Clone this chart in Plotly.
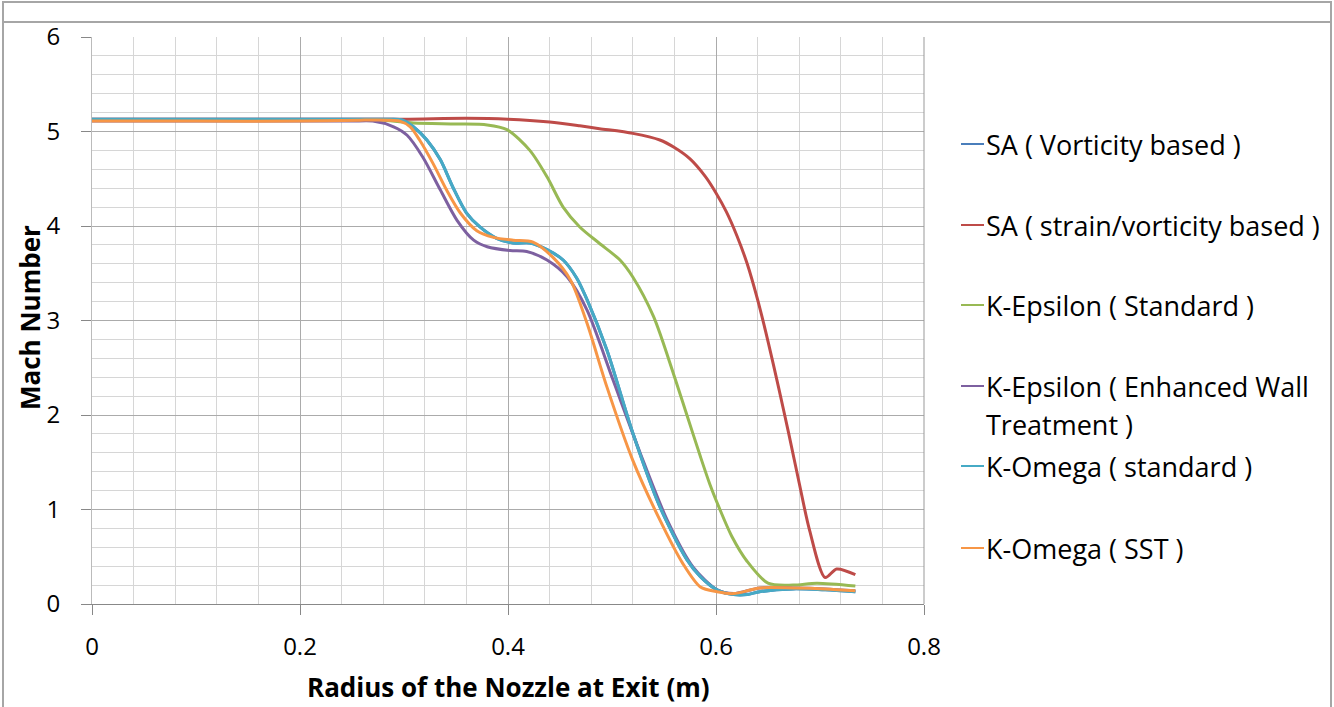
import plotly.graph_objects as go

# ---------------- data ----------------
series_names = [
    "SA ( Vorticity based )",
    "SA ( strain/vorticity based )",
    "K-Epsilon ( Standard )",
    "K-Epsilon ( Enhanced Wall Treatment )",
    "K-Omega ( standard )",
    "K-Omega ( SST )",
]
series_colors = ["#4A7EBB", "#BE4B48", "#98B954", "#7D60A0", "#46AAC5", "#F79646"]

sa_vort_x = [0, 0.1, 0.2, 0.26, 0.287, 0.299, 0.309, 0.322, 0.335, 0.347, 0.36, 0.373, 0.389, 0.405,
             0.421, 0.4375, 0.453, 0.466, 0.476, 0.495, 0.52, 0.546, 0.572, 0.585, 0.601, 0.617, 0.63,
             0.642, 0.674, 0.705, 0.734]
sa_vort_y = [5.13, 5.13, 5.13, 5.13, 5.13, 5.12, 5.05, 4.91, 4.70, 4.41, 4.14, 3.99, 3.87, 3.82,
             3.82, 3.75, 3.64, 3.45, 3.22, 2.69, 1.81, 1.03, 0.47, 0.29, 0.15, 0.10, 0.10,
             0.13, 0.16, 0.15, 0.13]

sa_strain_x = [0, 0.1, 0.2, 0.3, 0.36, 0.4, 0.44, 0.469, 0.488, 0.52, 0.546, 0.56, 0.575, 0.59, 0.60,
               0.61, 0.62, 0.63, 0.64, 0.65, 0.66, 0.67, 0.68, 0.69, 0.705, 0.716, 0.734]
sa_strain_y = [5.13, 5.13, 5.13, 5.13, 5.14, 5.13, 5.10, 5.06, 5.03, 4.98, 4.91, 4.83, 4.71, 4.52, 4.35,
               4.15, 3.90, 3.60, 3.22, 2.78, 2.30, 1.80, 1.28, 0.78, 0.28, 0.37, 0.31]

ke_std_x = [0, 0.1, 0.2, 0.28, 0.309, 0.35, 0.38, 0.399, 0.421, 0.4375, 0.453, 0.469, 0.4875, 0.5077,
            0.52, 0.54, 0.559, 0.572, 0.585, 0.594, 0.603, 0.615, 0.63, 0.65, 0.674, 0.697, 0.734]
ke_std_y = [5.12, 5.12, 5.12, 5.12, 5.09, 5.08, 5.07, 5.02, 4.80, 4.52, 4.20, 3.99, 3.82, 3.64,
            3.46, 3.04, 2.44, 2.00, 1.56, 1.27, 1.02, 0.72, 0.45, 0.22, 0.20, 0.22, 0.19]

ke_ewt_x = [0, 0.1, 0.2, 0.25, 0.27, 0.29, 0.303, 0.318, 0.335, 0.351, 0.367, 0.38, 0.402, 0.418,
            0.4375, 0.457, 0.476, 0.501, 0.527, 0.553, 0.578, 0.601, 0.617, 0.642, 0.674, 0.705, 0.734]
ke_ewt_y = [5.11, 5.11, 5.11, 5.11, 5.11, 5.05, 4.96, 4.73, 4.38, 4.06, 3.85, 3.78, 3.74, 3.73,
            3.64, 3.46, 3.11, 2.37, 1.60, 0.89, 0.39, 0.15, 0.11, 0.17, 0.17, 0.16, 0.14]

kw_std_x = list(sa_vort_x)
kw_std_y = [5.13, 5.13, 5.13, 5.13, 5.13, 5.12, 5.05, 4.91, 4.70, 4.41, 4.14, 3.99, 3.87, 3.82,
            3.82, 3.75, 3.64, 3.45, 3.22, 2.69, 1.81, 1.03, 0.47, 0.29, 0.15, 0.10, 0.10,
            0.13, 0.16, 0.15, 0.13]

kw_sst_x = [0, 0.1, 0.2, 0.258, 0.285, 0.296, 0.306, 0.315, 0.328, 0.341, 0.354, 0.37, 0.386, 0.405,
            0.424, 0.443, 0.46, 0.476, 0.495, 0.52, 0.546, 0.568, 0.585, 0.601, 0.617, 0.642, 0.674,
            0.705, 0.734]
kw_sst_y = [5.11, 5.11, 5.11, 5.12, 5.12, 5.11, 5.05, 4.91, 4.66, 4.38, 4.14, 3.95, 3.88, 3.85,
            3.83, 3.67, 3.43, 2.97, 2.30, 1.52, 0.89, 0.43, 0.18, 0.13, 0.11, 0.17, 0.17,
            0.16, 0.14]

x_tick_vals = [0, 0.2, 0.4, 0.6, 0.8]
x_tick_text = ["0", "0.2", "0.4", "0.6", "0.8"]
y_tick_vals = [0, 1, 2, 3, 4, 5, 6]
y_tick_text = ["0", "1", "2", "3", "4", "5", "6"]

x_title = "Radius of the Nozzle at Exit (m)"
y_title = "Mach Number"

all_x = [sa_vort_x, sa_strain_x, ke_std_x, ke_ewt_x, kw_std_x, kw_sst_x]
all_y = [sa_vort_y, sa_strain_y, ke_std_y, ke_ewt_y, kw_std_y, kw_sst_y]

# ---------------- figure ----------------
W, H = 1334, 707
L, R, T, B = 92, 924, 37, 604  # plot area in pixels


def px(xp):
    return (xp - L) / (R - L)


def py(yp):
    return (B - yp) / (B - T)


FONT = "'Open Sans', 'Noto Sans', sans-serif"

fig = go.Figure()
for name, color, xs, ys in zip(series_names, series_colors, all_x, all_y):
    fig.add_trace(go.Scatter(
        x=xs, y=ys, name=name, mode="lines",
        line=dict(color=color, width=3, shape="spline", smoothing=0.8),
        showlegend=False,
    ))

fig.update_layout(
    width=W, height=H,
    margin=dict(l=L, r=W - R, t=T, b=H - B, pad=0),
    paper_bgcolor="white", plot_bgcolor="white",
    font=dict(family=FONT, size=24, color="#000000"),
    showlegend=False,
)

fig.update_xaxes(
    range=[0, 0.8], tickvals=x_tick_vals, ticktext=x_tick_text,
    showgrid=True, gridcolor="#ABABAB", gridwidth=1,
    minor=dict(dtick=0.04, showgrid=True, gridcolor="#D6D6D6", gridwidth=1),
    ticks="outside", ticklen=10, tickcolor="#888888", tickwidth=1,
    ticklabelstandoff=11,
    showline=True, linecolor="#888888", linewidth=1, mirror=False,
    zeroline=False, tickfont=dict(size=24, family=FONT),
)
fig.update_yaxes(
    range=[0, 6], tickvals=y_tick_vals, ticktext=y_tick_text,
    showgrid=True, gridcolor="#ABABAB", gridwidth=1,
    minor=dict(dtick=0.2, showgrid=True, gridcolor="#D6D6D6", gridwidth=1),
    ticks="outside", ticklen=10, tickcolor="#888888", tickwidth=1,
    ticklabelstandoff=16,
    showline=True, linecolor="#BBBBBB", linewidth=1,
    zeroline=False, tickfont=dict(size=24, family=FONT),
)

shapes = [
    # outer chart frame
    dict(type="rect", xref="paper", yref="paper", x0=px(3), x1=px(1331), y0=py(712), y1=py(2),
         line=dict(color="#A6A6A6", width=2), layer="below"),
    dict(type="line", xref="paper", yref="paper", x0=px(3), x1=px(1331), y0=py(22), y1=py(22),
         line=dict(color="#A6A6A6", width=2)),
    # right edge of plot area
    dict(type="line", xref="paper", yref="paper", x0=1, x1=1, y0=0, y1=1,
         line=dict(color="#999999", width=1)),
]

annotations = [
    dict(text="<b>" + y_title + "</b>", xref="paper", yref="paper", x=px(30), y=py(318),
         textangle=-90, showarrow=False, font=dict(size=26, family=FONT),
         xanchor="center", yanchor="middle"),
    dict(text="<b>" + x_title + "</b>", xref="paper", yref="paper", x=px(508), y=py(687),
         showarrow=False, font=dict(size=26, family=FONT), xanchor="center", yanchor="middle"),
]

# custom legend (Excel-like spacing)
legend_rows = [
    ["SA ( Vorticity based )"],
    ["SA ( strain/vorticity based )"],
    ["K-Epsilon ( Standard )"],
    ["K-Epsilon ( Enhanced Wall", "Treatment )"],
    ["K-Omega ( standard )"],
    ["K-Omega ( SST )"],
]
legend_y = [144, 225, 305, 386, 466, 548]
for lines, color, ly in zip(legend_rows, series_colors, legend_y):
    shapes.append(dict(type="line", xref="paper", yref="paper", x0=px(961), x1=px(984),
                       y0=py(ly), y1=py(ly), line=dict(color=color, width=2)))
    for i, t in enumerate(lines):
        annotations.append(dict(text=t, xref="paper", yref="paper", x=px(984), y=py(ly + 38 * i),
                                showarrow=False, xanchor="left", yanchor="middle",
                                font=dict(size=27, family=FONT, color="#000000")))

fig.update_layout(shapes=shapes, annotations=annotations)
fig.write_html("out.html", config={"displayModeBar": False},
               post_script="document.body.style.margin='0px';")
